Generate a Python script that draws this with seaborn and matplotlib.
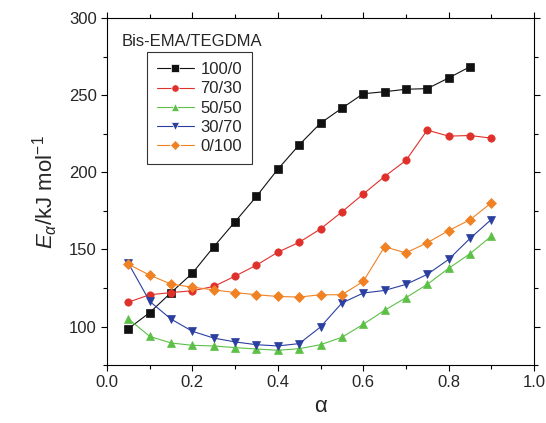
import matplotlib
matplotlib.use('Agg')
import matplotlib.pyplot as plt
import seaborn as sns
import pandas as pd

alpha = [0.05, 0.10, 0.15, 0.20, 0.25, 0.30, 0.35, 0.40, 0.45,
         0.50, 0.55, 0.60, 0.65, 0.70, 0.75, 0.80, 0.85, 0.90]

ratios = ['100/0', '70/30', '50/50', '30/70', '0/100']

e_100_0 = [98.6, 109.0, 122.0, 134.6, 151.7, 168.0, 184.4, 202.0, 217.8,
           231.9, 241.6, 251.0, 252.3, 253.9, 254.3, 261.2, 268.5]
e_70_30 = [115.8, 120.6, 122.0, 123.2, 126.0, 132.7, 139.8, 148.2, 154.6,
           163.3, 174.3, 185.9, 197.3, 207.7, 227.4, 223.5, 223.9, 222.2]
e_50_50 = [105.0, 93.6, 89.3, 87.8, 87.4, 86.3, 85.4, 84.6, 85.6,
           88.2, 93.0, 101.4, 110.5, 118.7, 127.3, 137.7, 147.2, 158.6]
e_30_70 = [141.0, 116.3, 104.8, 96.9, 92.5, 90.0, 88.2, 87.4, 88.9,
           99.7, 115.2, 121.7, 123.4, 127.3, 133.8, 143.5, 157.1, 169.4]
e_0_100 = [140.4, 133.3, 127.5, 125.5, 123.8, 122.0, 120.6, 119.5, 119.1,
           120.6, 120.6, 129.2, 151.7, 147.8, 154.3, 162.2, 169.2, 180.2]

series = [e_100_0, e_70_30, e_50_50, e_30_70, e_0_100]
colors = ['#111111', '#e0302a', '#5cc046', '#2a3fa0', '#f08224']
marks = ['s', 'o', '^', 'v', 'D']

rows = []
for r, vals in zip(ratios, series):
    for a, e in zip(alpha, vals):
        rows.append({'alpha': a, 'E': e, 'ratio': r})
df = pd.DataFrame(rows)

sns.set_style('ticks')
plt.rcParams['font.family'] = ['Liberation Sans', 'DejaVu Sans']
plt.rcParams['mathtext.fontset'] = 'custom'
plt.rcParams['mathtext.rm'] = 'Liberation Sans'
plt.rcParams['mathtext.it'] = 'Liberation Sans:italic'

fig = plt.figure(figsize=(5.46, 4.23), dpi=100)
ax = fig.add_axes([0.196, 0.137, 0.782, 0.820])

sns.lineplot(data=df, x='alpha', y='E', hue='ratio', style='ratio',
             hue_order=ratios, style_order=ratios,
             palette=dict(zip(ratios, colors)),
             markers=dict(zip(ratios, marks)), dashes=False,
             linewidth=0.8, markersize=5.3, markeredgewidth=0.5, ax=ax)

# markers with same-colour edge
for line, c in zip(ax.get_lines(), colors):
    line.set_markeredgecolor(c)

ax.set_xlim(0, 1.0)
ax.set_ylim(75, 300)
ax.set_xticks([0.0, 0.2, 0.4, 0.6, 0.8, 1.0])
ax.set_xticks([0.1, 0.3, 0.5, 0.7, 0.9], minor=True)
ax.set_yticks([100, 150, 200, 250, 300])
ax.set_yticks([75, 125, 175, 225, 275], minor=True)
ax.tick_params(which='both', direction='out', top=True, right=True,
               labelsize=12, color='black', width=0.8)
ax.tick_params(which='major', length=4)
ax.tick_params(which='minor', length=3)
for s in ax.spines.values():
    s.set_linewidth(0.8)
    s.set_color('black')

ax.set_xlabel('α', fontsize=16, labelpad=4)
ax.set_ylabel(r'$E_{\alpha}$/kJ mol$^{-1}$', fontsize=16, labelpad=6)

ax.text(0.035, 0.955, 'Bis-EMA/TEGDMA', transform=ax.transAxes,
        ha='left', va='top', fontsize=12)

handles, labels = ax.get_legend_handles_labels()
leg = ax.legend(handles, labels, loc='upper left',
                bbox_to_anchor=(0.094, 0.902), borderaxespad=0,
                fontsize=12, frameon=True, fancybox=False,
                handlelength=2.2, handletextpad=0.4, labelspacing=0.25,
                borderpad=0.6)
leg.get_frame().set_edgecolor('black')
leg.get_frame().set_linewidth(0.8)

fig.savefig('out.png', dpi=100)
